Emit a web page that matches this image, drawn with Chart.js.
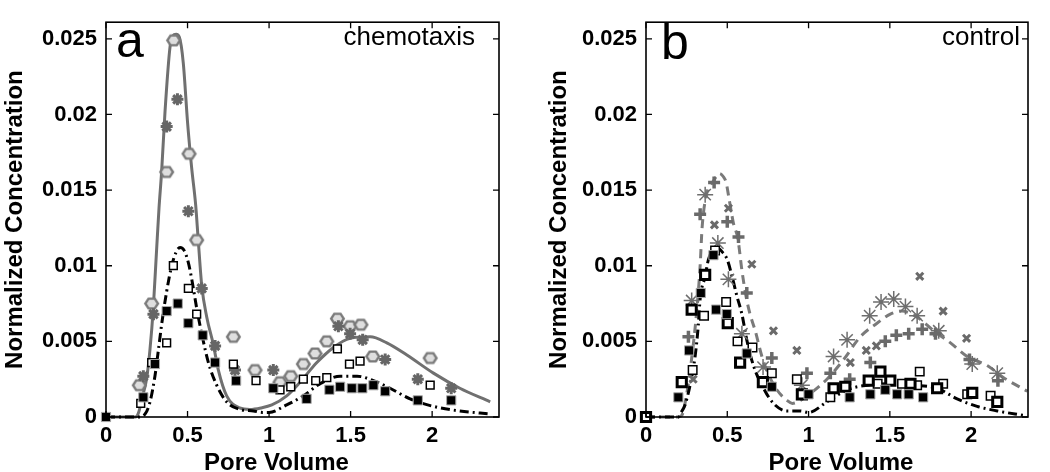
<!DOCTYPE html>
<html><head><meta charset="utf-8">
<script src="https://cdn.jsdelivr.net/npm/chart.js@4.4.0/dist/chart.umd.min.js"></script>
<style>
html,body{margin:0;padding:0;background:#fff;}
#wrap{position:relative;width:1050px;height:472px;overflow:hidden;background:#fff;}
canvas{position:absolute;top:0;}
</style></head><body>
<div id="wrap">
<canvas id="ca" width="525" height="472" style="left:0px;width:525px;height:472px"></canvas>
<canvas id="cb" width="525" height="472" style="left:525px;width:525px;height:472px"></canvas>
</div>
<script>
// ---------- tick labels and texts ----------
const xTickVals = [0, 0.5, 1, 1.5, 2];
const xTickLabels = ['0', '0.5', '1', '1.5', '2'];
const yTickVals = [0, 0.005, 0.01, 0.015, 0.02, 0.025];
const yTickLabels = ['0', '0.005', '0.01', '0.015', '0.02', '0.025'];
const yLabel = 'Normalized Concentration';
const xLabel = 'Pore Volume';
const panelLetters = ['a', 'b'];
const panelTags = ['chemotaxis', 'control'];

// ---------- panel a (chemotaxis) ----------
const aSolidX = [0, 0.18, 0.2, 0.22, 0.25, 0.27, 0.29, 0.31, 0.325, 0.341, 0.362, 0.393, 0.41, 0.43, 0.45, 0.474, 0.5, 0.525, 0.55, 0.565, 0.587, 0.618, 0.658, 0.689, 0.74, 0.82, 0.883, 0.95, 1.017, 1.108, 1.19, 1.293, 1.395, 1.497, 1.62, 1.722, 1.845, 2.008, 2.17, 2.356];
const aSolidY = [0, 0, 0.0003, 0.0012, 0.0026, 0.0045, 0.0072, 0.0110, 0.0138, 0.0162, 0.0202, 0.0245, 0.0252, 0.0253, 0.0251, 0.0234, 0.0195, 0.0165, 0.0140, 0.0118, 0.0087, 0.0066, 0.0048, 0.0031, 0.0014, 0.0006, 0.0005, 0.0006, 0.0008, 0.0014, 0.0023, 0.0036, 0.0046, 0.0052, 0.0053, 0.0049, 0.0041, 0.0029, 0.0019, 0.0010];
const aDashDotX = [0, 0.2, 0.24, 0.27, 0.30, 0.321, 0.341, 0.372, 0.403, 0.43, 0.454, 0.48, 0.505, 0.526, 0.556, 0.587, 0.628, 0.679, 0.74, 0.822, 0.904, 0.96, 1.0, 1.108, 1.21, 1.313, 1.436, 1.54, 1.64, 1.742, 1.865, 2.008, 2.17, 2.356];
const aDashDotY = [0, 0, 0.0002, 0.0010, 0.0027, 0.0044, 0.0061, 0.0083, 0.0100, 0.0109, 0.0112, 0.0110, 0.0102, 0.0091, 0.0072, 0.0055, 0.0036, 0.0021, 0.0010, 0.0005, 0.0004, 0.0003, 0.0003, 0.0008, 0.0014, 0.0022, 0.0027, 0.0027, 0.0024, 0.0019, 0.0012, 0.0007, 0.0004, 0.0002];
const aHexX = [0.204, 0.28, 0.372, 0.415, 0.509, 0.556, 0.781, 0.914, 1.067, 1.133, 1.21, 1.282, 1.354, 1.419, 1.497, 1.563, 1.636, 1.988];
const aHexY = [0.0021, 0.0075, 0.0162, 0.0249, 0.0174, 0.0117, 0.0053, 0.0031, 0.0023, 0.0027, 0.0035, 0.0042, 0.0050, 0.0065, 0.0060, 0.0061, 0.0040, 0.0039];
const aStarX = [0.229, 0.291, 0.372, 0.438, 0.505, 0.587, 0.669, 0.791, 1.026, 1.425, 1.497, 1.574, 1.712, 1.912, 2.117];
const aStarY = [0.0027, 0.0068, 0.0192, 0.0210, 0.0136, 0.0085, 0.0047, 0.0031, 0.0031, 0.0060, 0.0055, 0.0051, 0.0038, 0.0025, 0.0019];
const aOpenSqX = [0.213, 0.28, 0.372, 0.413, 0.505, 0.556, 0.781, 0.92, 1.067, 1.133, 1.21, 1.286, 1.354, 1.419, 1.493, 1.558, 1.988];
const aOpenSqY = [0.0009, 0.0036, 0.0049, 0.0100, 0.0085, 0.0068, 0.0035, 0.0024, 0.0018, 0.0020, 0.0025, 0.0024, 0.0026, 0.0045, 0.0035, 0.0037, 0.0021];
const aFilledSqX = [0, 0.229, 0.30, 0.372, 0.44, 0.505, 0.593, 0.669, 0.798, 1.026, 1.23, 1.37, 1.436, 1.507, 1.572, 1.64, 1.712, 1.912, 2.117];
const aFilledSqY = [0, 0.0013, 0.0035, 0.0070, 0.0075, 0.0062, 0.0054, 0.0036, 0.0024, 0.0019, 0.0012, 0.0018, 0.0020, 0.0019, 0.0019, 0.0021, 0.0017, 0.0011, 0.0011];

// ---------- panel b (control) ----------
const bDashX = [0, 0.2, 0.22, 0.25, 0.28, 0.312, 0.333, 0.345, 0.37, 0.415, 0.452, 0.475, 0.493, 0.513, 0.538, 0.565, 0.59, 0.615, 0.64, 0.672, 0.713, 0.754, 0.805, 0.867, 0.9, 0.99, 1.113, 1.216, 1.318, 1.421, 1.503, 1.575, 1.668, 1.77, 1.873, 1.976, 2.099, 2.2, 2.346];
const bDashY = [0, 0, 0.0001, 0.0015, 0.0038, 0.0070, 0.0100, 0.0125, 0.0146, 0.0156, 0.0161, 0.0159, 0.0155, 0.0143, 0.0128, 0.0118, 0.0097, 0.0080, 0.0068, 0.0057, 0.0040, 0.0028, 0.0018, 0.0011, 0.0009, 0.0014, 0.0025, 0.0038, 0.0053, 0.0062, 0.0068, 0.0070, 0.0066, 0.0057, 0.0049, 0.0040, 0.0034, 0.0026, 0.0017];
const bDashDotX = [0, 0.2, 0.21, 0.24, 0.271, 0.302, 0.322, 0.333, 0.364, 0.384, 0.435, 0.47, 0.50, 0.534, 0.559, 0.59, 0.62, 0.661, 0.723, 0.784, 0.867, 0.949, 1.0, 1.113, 1.237, 1.36, 1.503, 1.647, 1.791, 1.914, 2.037, 2.161, 2.325];
const bDashDotY = [0, 0, 0.0002, 0.0008, 0.0021, 0.0040, 0.0061, 0.0078, 0.0093, 0.0104, 0.0112, 0.0109, 0.0104, 0.0091, 0.0080, 0.0068, 0.0051, 0.0034, 0.0019, 0.0009, 0.0004, 0.0004, 0.0003, 0.0010, 0.0018, 0.0021, 0.0022, 0.0021, 0.0019, 0.0012, 0.0007, 0.0004, 0.0001];
const bAsteriskX = [0.281, 0.364, 0.442, 0.507, 0.59, 0.72, 0.959, 1.154, 1.237, 1.376, 1.446, 1.524, 1.596, 1.668, 1.801, 2.007, 2.161];
const bAsteriskY = [0.0077, 0.0147, 0.0115, 0.0091, 0.0055, 0.0033, 0.0021, 0.0040, 0.0051, 0.0067, 0.0076, 0.0078, 0.0073, 0.0067, 0.0057, 0.0035, 0.0029];
const bPlusX = [0.261, 0.333, 0.419, 0.50, 0.569, 0.62, 0.774, 0.99, 1.134, 1.253, 1.38, 1.472, 1.54, 1.616, 1.699, 1.781, 1.99, 2.165];
const bPlusY = [0.0053, 0.0134, 0.0155, 0.0129, 0.0119, 0.0082, 0.0039, 0.0029, 0.0029, 0.0025, 0.0036, 0.0050, 0.0054, 0.0055, 0.0058, 0.0055, 0.0038, 0.0024];
const bCrossX = [0.29, 0.421, 0.507, 0.651, 0.784, 0.928, 1.257, 1.355, 1.417, 1.684, 1.828, 1.972];
const bCrossY = [0.0025, 0.0127, 0.0138, 0.0101, 0.0057, 0.0044, 0.0036, 0.0044, 0.0047, 0.0093, 0.0070, 0.0052];
const bFilledSqX = [0.199, 0.265, 0.337, 0.415, 0.431, 0.497, 0.62, 0.774, 1.0, 1.253, 1.38, 1.472, 1.545, 1.616, 1.705];
const bFilledSqY = [0.0013, 0.0044, 0.0082, 0.0107, 0.0071, 0.0068, 0.0042, 0.0020, 0.0015, 0.0013, 0.0015, 0.0018, 0.0015, 0.0015, 0.0013];
const bThickSqX = [0, 0.22, 0.281, 0.364, 0.503, 0.579, 0.719, 0.959, 1.154, 1.226, 1.37, 1.442, 1.503, 1.627, 1.791, 2.007, 2.161];
const bThickSqY = [0, 0.0023, 0.0071, 0.0094, 0.0062, 0.0036, 0.0023, 0.0015, 0.0019, 0.0020, 0.0024, 0.0030, 0.0024, 0.0022, 0.0019, 0.0016, 0.0010];
const bThinSqX = [0.287, 0.357, 0.425, 0.493, 0.563, 0.655, 0.774, 0.928, 1.134, 1.425, 1.575, 1.668, 1.684, 1.828, 1.976, 2.12];
const bThinSqY = [0.0031, 0.0067, 0.0110, 0.0076, 0.0050, 0.0046, 0.0029, 0.0025, 0.0013, 0.0022, 0.0022, 0.0021, 0.0030, 0.0022, 0.0015, 0.0014];

// ---------- helpers ----------
const FONT = '"Liberation Sans", Arial, Helvetica, sans-serif';
const pts = (xs, ys) => xs.map((x, i) => ({ x: x, y: ys[i] }));

function hexImage(r, fill, stroke, lw) {
  const s = Math.ceil(2 * r + lw + 2);
  const c = document.createElement('canvas');
  c.width = s; c.height = s;
  const g = c.getContext('2d');
  g.beginPath();
  for (let k = 0; k < 6; k++) {
    const ang = Math.PI / 3 * k;
    const px = s / 2 + r * Math.cos(ang), py = s / 2 + r * 0.9 * Math.sin(ang);
    if (k) g.lineTo(px, py); else g.moveTo(px, py);
  }
  g.closePath();
  g.fillStyle = fill; g.fill();
  g.lineWidth = lw; g.strokeStyle = stroke; g.stroke();
  return c;
}
const hexStyle = hexImage(6.3, '#dedede', '#7a7a7a', 2.4);

function lineDs(xs, ys, color, dash, order) {
  return { type: 'line', data: pts(xs, ys), borderColor: color, borderWidth: 3, borderDash: dash,
    pointRadius: 0, cubicInterpolationMode: 'monotone', fill: false, order: order, clip: false };
}
function markDs(xs, ys, style, radius, bg, border, bw, order) {
  return { type: 'scatter', data: pts(xs, ys), pointStyle: style, pointRadius: radius,
    backgroundColor: bg, borderColor: border, borderWidth: bw, order: order, clip: false, showLine: false };
}

const framePlugin = {
  id: 'frame',
  afterDraw(chart, args, o) {
    const { ctx, chartArea: a, scales } = chart;
    const xs = scales.x, ys = scales.y;
    ctx.save();
    ctx.strokeStyle = '#000';
    ctx.lineWidth = 1.6;
    ctx.strokeRect(a.left, a.top, a.right - a.left, a.bottom - a.top);
    ctx.lineWidth = 1.3;
    ctx.beginPath();
    xTickVals.forEach(v => {
      const p = xs.getPixelForValue(v);
      ctx.moveTo(p, a.bottom); ctx.lineTo(p, a.bottom - 6);
      ctx.moveTo(p, a.top); ctx.lineTo(p, a.top + 6);
    });
    yTickVals.forEach(v => {
      const p = ys.getPixelForValue(v);
      ctx.moveTo(a.left, p); ctx.lineTo(a.left + 6, p);
      ctx.moveTo(a.right, p); ctx.lineTo(a.right - 6, p);
    });
    ctx.stroke();
    ctx.fillStyle = '#000';
    ctx.textBaseline = 'alphabetic';
    ctx.textAlign = 'left';
    ctx.font = '50px ' + FONT;
    ctx.fillText(o.letter, a.left + o.letterDx, o.letterY);
    ctx.textAlign = 'right';
    ctx.font = '26px ' + FONT;
    ctx.fillText(o.tag, a.right - o.tagDx, 45);
    ctx.textAlign = 'center';
    ctx.font = 'bold 24px ' + FONT;
    ctx.fillText(xLabel, (a.left + a.right) / 2 + o.xTitleDx, 470);
    ctx.restore();
  }
};

function makePanel(id, datasets, p) {
  return new Chart(document.getElementById(id), {
    data: { datasets: datasets },
    plugins: [framePlugin],
    options: {
      responsive: false,
      animation: false,
      devicePixelRatio: 1,
      layout: { padding: { left: 0, right: p.rightPad, top: 9, bottom: 0 } },
      plugins: {
        legend: { display: false },
        tooltip: { enabled: false },
        frame: { letter: p.letter, letterDx: p.letterDx, letterY: p.letterY, tag: p.tag, tagDx: p.tagDx, xTitleDx: p.xTitleDx }
      },
      scales: {
        x: {
          type: 'linear', min: 0, max: p.xMax,
          grid: { display: false, drawTicks: false }, border: { display: false },
          afterBuildTicks: s => { s.ticks = xTickVals.map(v => ({ value: v })); },
          afterFit: s => { s.height = 55; },
          ticks: { autoSkip: false, maxRotation: 0, padding: 6, color: '#000',
            font: { family: FONT, size: 22, weight: 'bold' },
            callback: (v, i) => xTickLabels[i] }
        },
        y: {
          type: 'linear', min: 0, max: 0.0261,
          grid: { display: false, drawTicks: false }, border: { display: false },
          afterBuildTicks: s => { s.ticks = yTickVals.map(v => ({ value: v })); },
          afterFit: s => { s.width = p.yWidth; },
          ticks: { autoSkip: false, padding: 9, color: '#000',
            font: { family: FONT, size: 22, weight: 'bold' },
            callback: (v, i) => yTickLabels[i] },
          title: { display: true, text: yLabel, color: '#000',
            font: { family: FONT, size: 24, weight: 'bold', lineHeight: 1.2 },
            padding: { top: p.yTitlePad, bottom: 0 } }
        }
      }
    }
  });
}

const GRAY = '#707070';
makePanel('ca', [
  lineDs(aSolidX, aSolidY, GRAY, [], 10),
  lineDs(aDashDotX, aDashDotY, '#000', [9, 4, 2, 4], 9),
  markDs(aHexX, aHexY, hexStyle, 7, '#dedede', '#7a7a7a', 2, 5),
  markDs(aStarX, aStarY, 'star', 6, '#666', '#666', 3, 4),
  markDs(aOpenSqX, aOpenSqY, 'rect', 5.5, '#fff', '#000', 1.5, 3),
  markDs(aFilledSqX, aFilledSqY, 'rect', 6.5, '#000', '#a8a8a8', 1, 2)
], { xMax: 2.41, yWidth: 106, rightPad: 26, yTitlePad: 1, letter: panelLetters[0], letterDx: 10, letterY: 57,
     tag: panelTags[0], tagDx: 24, xTitleDx: -26 });

makePanel('cb', [
  lineDs(bDashX, bDashY, '#7a7a7a', [9, 6], 10),
  lineDs(bDashDotX, bDashDotY, '#000', [9, 4, 2, 4], 9),
  markDs(bAsteriskX, bAsteriskY, 'star', 8, '#6e6e6e', '#6e6e6e', 1.5, 6),
  markDs(bPlusX, bPlusY, 'cross', 6, '#6a6a6a', '#6a6a6a', 3.5, 5),
  markDs(bCrossX, bCrossY, 'crossRot', 5, '#6a6a6a', '#6a6a6a', 3, 4),
  markDs(bThinSqX, bThinSqY, 'rect', 6, '#fff', '#000', 1.5, 3),
  markDs(bThickSqX, bThickSqY, 'rect', 6.5, '#fff', '#000', 3, 2),
  markDs(bFilledSqX, bFilledSqY, 'rect', 6.5, '#000', '#a8a8a8', 1, 1)
], { xMax: 2.35, yWidth: 121, rightPad: 22, yTitlePad: 20, letter: panelLetters[1], letterDx: 15, letterY: 59,
     tag: panelTags[1], tagDx: 8, xTitleDx: 4 });
</script>
</body></html>
